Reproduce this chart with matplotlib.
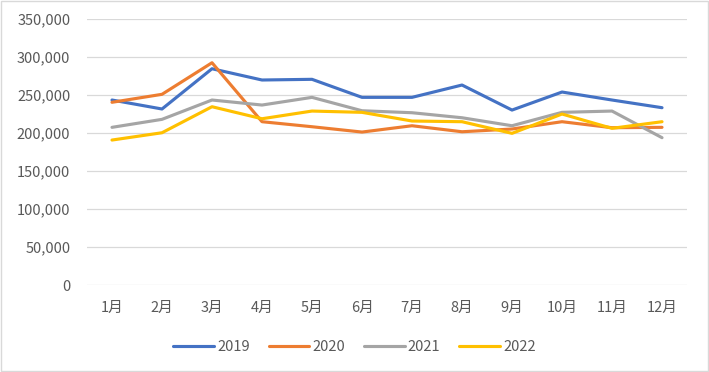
import matplotlib.pyplot as plt
from matplotlib.patches import Rectangle
from matplotlib.ticker import FuncFormatter

plt.rcParams['font.family'] = ['Noto Sans CJK SC', 'DejaVu Sans']

months = ['1月', '2月', '3月', '4月', '5月', '6月', '7月', '8月', '9月', '10月', '11月', '12月']
y2019 = [243500, 231700, 284600, 269800, 270700, 247000, 247000, 263200, 230300, 254000, 243500, 233400]
y2020 = [240500, 251000, 292500, 215000, 208400, 201400, 209700, 201800, 205400, 215000, 207100, 207600]
y2021 = [207600, 218100, 243500, 236900, 247000, 229400, 226800, 220200, 209700, 227300, 229000, 194000]
y2022 = [190900, 200500, 234700, 218900, 229000, 227300, 215900, 215000, 199700, 225100, 206300, 215000]

series = [('2019', y2019, '#4472C4'), ('2020', y2020, '#ED7D31'),
          ('2021', y2021, '#A5A5A5'), ('2022', y2022, '#FFC000')]

fig = plt.figure(figsize=(7.09, 3.72), dpi=100)
ax = fig.add_axes([0.1227, 0.233, 0.8463, 0.716])

x = range(len(months))
for name, vals, col in series:
    ax.plot(x, vals, color=col, linewidth=2.25, label=name, solid_capstyle='round')

ax.set_xlim(-0.5, len(months) - 0.5)
ax.set_ylim(0, 350000)
ax.set_yticks(range(0, 350001, 50000))
ax.yaxis.set_major_formatter(FuncFormatter(lambda v, p: f'{int(v):,}'))
ax.set_xticks(list(x))
ax.set_xticklabels(months)
ax.grid(axis='y', color='#D9D9D9', linewidth=0.9)
ax.set_axisbelow(True)
for s in ax.spines.values():
    s.set_visible(False)
ax.tick_params(axis='both', length=0, colors='#595959', labelsize=10.5)
ax.tick_params(axis='y', pad=12)
ax.tick_params(axis='x', pad=11)

fig.legend(loc='center', bbox_to_anchor=(0.5, 0.067), ncol=4, frameon=False,
           fontsize=10.5, labelcolor='#595959', handlelength=2.8, columnspacing=1.3,
           handletextpad=0.2)

fig.patches.append(Rectangle((0.001, 0.002), 0.997, 0.995, transform=fig.transFigure,
                             fill=False, edgecolor='#D9D9D9', linewidth=1))

fig.savefig('out.png', dpi=100)
